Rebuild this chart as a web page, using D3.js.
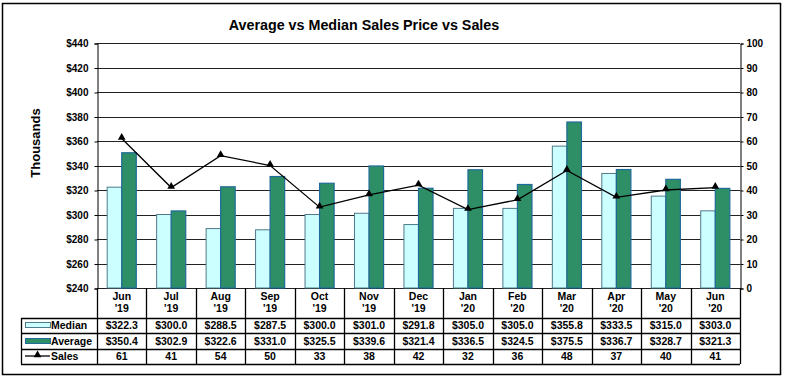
<!DOCTYPE html>
<html>
<head>
<meta charset="utf-8">
<script src="https://cdn.jsdelivr.net/npm/d3@7"></script>
<style>
  body { margin: 0; background: #fff; }
  svg text { font-family: "Liberation Sans", Arial, sans-serif; font-weight: bold; fill: #000; }
</style>
</head>
<body>
<svg id="chart" width="785" height="379"></svg>
<script>
// data
const months = ["Jun", "Jul", "Aug", "Sep", "Oct", "Nov", "Dec", "Jan", "Feb", "Mar", "Apr", "May", "Jun"];
const years = ["'19", "'19", "'19", "'19", "'19", "'19", "'19", "'20", "'20", "'20", "'20", "'20", "'20"];
const median = [322.3, 300.0, 288.5, 287.5, 300.0, 301.0, 291.8, 305.0, 305.0, 355.8, 333.5, 315.0, 303.0];
const average = [350.4, 302.9, 322.6, 331.0, 325.5, 339.6, 321.4, 336.5, 324.5, 375.5, 336.7, 328.7, 321.3];
const sales = [61, 41, 54, 50, 33, 38, 42, 32, 36, 48, 37, 40, 41];
const priceTicks = [240, 260, 280, 300, 320, 340, 360, 380, 400, 420, 440];
const salesTicks = [0, 10, 20, 30, 40, 50, 60, 70, 80, 90, 100];

const medianFill = '#CCFFFF', medianStroke = '#4F7A8A';
const avgFill = '#2E8F66', avgStroke = '#1F6A98';

drawChart();

function drawChart() {
    var svg = d3.select('#chart');
    var left = 97, right = 740, plotTop = 43, bottom = 288;

    // outer frame
    svg.append('rect').attr('x', 2.5).attr('y', 3.5).attr('width', 778).attr('height', 371)
        .attr('fill', 'none').attr('stroke', '#000').attr('stroke-width', 1.5);

    var idx = d3.range(months.length);
    var x = d3.scaleBand().domain(idx).range([left, right]).padding(0);
    var xs = d3.scaleBand().domain(['median', 'average']).range([0, x.bandwidth()])
        .paddingInner(0).paddingOuter(0.7);
    var y = d3.scaleLinear().domain([240, 440]).range([bottom, plotTop]);
    var y2 = d3.scaleLinear().domain([0, 100]).range([bottom, plotTop]);
    var cx = i => x(i) + x.bandwidth() / 2;

    // title
    svg.append('text').attr('x', 364).attr('y', 30).attr('text-anchor', 'middle')
        .style('font-size', '14.3px').text('Average vs Median Sales Price vs Sales');

    svg.append('text').attr('transform', 'translate(40,143) rotate(-90)')
        .attr('text-anchor', 'middle').style('font-size', '13px').text('Thousands');

    // grid
    svg.append('g').selectAll('line').data(priceTicks).enter().append('line')
        .attr('x1', left).attr('x2', right)
        .attr('y1', d => Math.round(y(d)) + 0.5).attr('y2', d => Math.round(y(d)) + 0.5)
        .attr('stroke', '#222').attr('stroke-width', 1);

    // left axis
    var yAxis = svg.append('g').attr('transform', `translate(${left + 0.5},0.5)`)
        .call(d3.axisLeft(y).tickValues(priceTicks).tickSize(3).tickPadding(6).tickFormat(d => '$' + d));
    yAxis.select('.domain').attr('stroke', '#000');
    yAxis.selectAll('text').style('font-size', '10px').attr('font-family', null);

    // right axis
    var y2Axis = svg.append('g').attr('transform', `translate(${right + 0.5},0.5)`)
        .call(d3.axisRight(y2).tickValues(salesTicks).tickSize(3).tickPadding(3));
    y2Axis.select('.domain').attr('stroke', '#000');
    y2Axis.selectAll('text').style('font-size', '10px').attr('font-family', null);

    // bars
    var groups = svg.append('g').selectAll('g').data(idx).enter().append('g')
        .attr('transform', i => `translate(${x(i)},0)`);
    groups.append('rect')
        .attr('x', xs('median')).attr('width', xs.bandwidth())
        .attr('y', i => y(median[i])).attr('height', i => bottom - y(median[i]))
        .attr('fill', medianFill).attr('stroke', medianStroke).attr('stroke-width', 1);
    groups.append('rect')
        .attr('x', xs('average')).attr('width', xs.bandwidth())
        .attr('y', i => y(average[i])).attr('height', i => bottom - y(average[i]))
        .attr('fill', avgFill).attr('stroke', avgStroke).attr('stroke-width', 1.2);

    // sales line
    var line = d3.line().x(cx).y(i => y2(sales[i]));
    svg.append('path').datum(idx).attr('d', line)
        .attr('fill', 'none').attr('stroke', '#000').attr('stroke-width', 1.3);
    svg.append('g').selectAll('path').data(idx).enter().append('path')
        .attr('d', d3.symbol().type(d3.symbolTriangle).size(26))
        .attr('transform', i => `translate(${cx(i)},${y2(sales[i]) - 1})`)
        .attr('fill', '#000');

    // data table
    var rowY = [318, 333, 349, 364];
    var tableLeft = 21;
    var table = svg.append('g');
    rowY.forEach(function(r) {
        table.append('line').attr('x1', tableLeft).attr('x2', right)
            .attr('y1', r + 0.5).attr('y2', r + 0.5).attr('stroke', '#000').attr('stroke-width', 1.3);
    });
    table.append('line').attr('x1', tableLeft + 0.5).attr('x2', tableLeft + 0.5)
        .attr('y1', rowY[0]).attr('y2', rowY[3]).attr('stroke', '#000').attr('stroke-width', 1.3);
    table.selectAll('.vline').data(d3.range(months.length + 1)).enter().append('line')
        .attr('x1', i => Math.round(left + i * x.step()) + 0.5)
        .attr('x2', i => Math.round(left + i * x.step()) + 0.5)
        .attr('y1', bottom).attr('y2', rowY[3]).attr('stroke', '#000').attr('stroke-width', 1.3);

    function cellRow(cls, yy, fmt) {
        table.selectAll('.' + cls).data(idx).enter().append('text').attr('class', cls)
            .attr('x', cx).attr('y', yy).attr('text-anchor', 'middle').style('font-size', '10.5px')
            .text(fmt);
    }
    cellRow('mon', 300, i => months[i]);
    cellRow('yr', 312, i => years[i]);
    cellRow('med', 329, i => '$' + median[i].toFixed(1));
    cellRow('avg', 345, i => '$' + average[i].toFixed(1));
    cellRow('sal', 360, i => sales[i]);

    // legend keys
    var legend = [
        { name: 'Median', y: 325, fill: medianFill, stroke: medianStroke },
        { name: 'Average', y: 341, fill: avgFill, stroke: avgStroke },
        { name: 'Sales', y: 356 }
    ];
    legend.forEach(function(l) {
        if (l.fill) {
            table.append('rect').attr('x', 25.5).attr('y', l.y - 2.5).attr('width', 25).attr('height', 5)
                .attr('fill', l.fill).attr('stroke', l.stroke).attr('stroke-width', 1);
        } else {
            table.append('line').attr('x1', 25).attr('x2', 50).attr('y1', l.y).attr('y2', l.y)
                .attr('stroke', '#000').attr('stroke-width', 1.3);
            table.append('path').attr('d', d3.symbol().type(d3.symbolTriangle).size(26))
                .attr('transform', `translate(37.5,${l.y - 1})`).attr('fill', '#000');
        }
        table.append('text').attr('x', 51).attr('y', l.y + 4).style('font-size', '10.5px').text(l.name);
    });
}
</script>
</body>
</html>
